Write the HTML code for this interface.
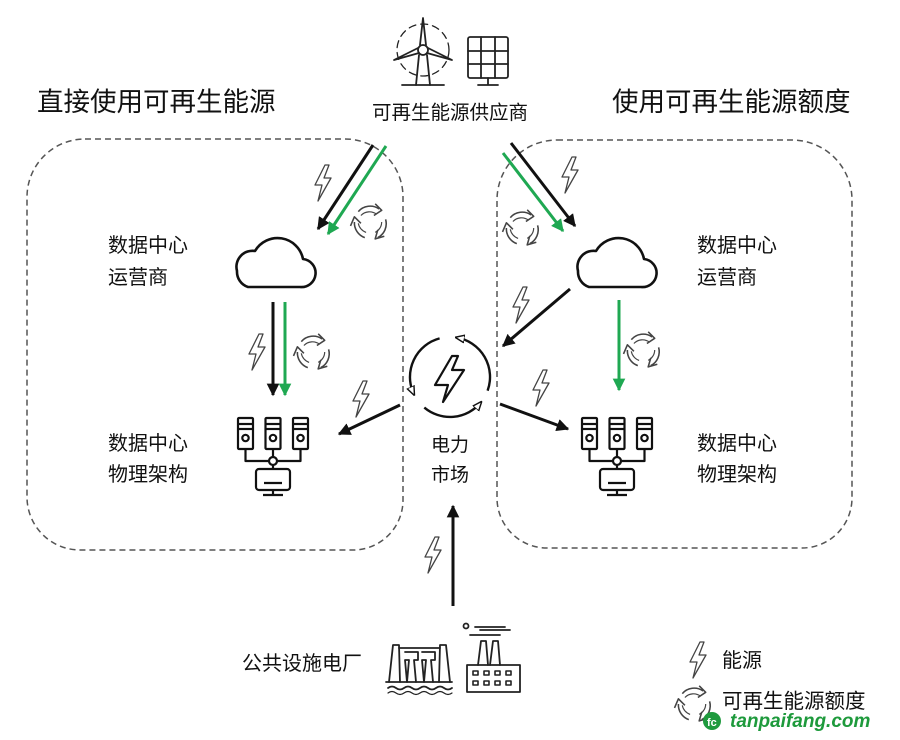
<!DOCTYPE html>
<html><head><meta charset="utf-8"><style>
html,body{margin:0;padding:0;background:#fff;}
svg{display:block;}
text{font-family:"Liberation Sans","Noto Sans CJK SC",sans-serif;fill:#111;}
</style></head><body>
<svg width="900" height="740" viewBox="0 0 900 740" xmlns="http://www.w3.org/2000/svg">
<defs>
<marker id="ab" viewBox="0 0 10 10" refX="9" refY="5" markerWidth="4.2" markerHeight="4.2" orient="auto" markerUnits="strokeWidth"><path d="M0,0 L10,5 L0,10 z" fill="#111"/></marker>
<marker id="ag" viewBox="0 0 10 10" refX="9" refY="5" markerWidth="4.2" markerHeight="4.2" orient="auto" markerUnits="strokeWidth"><path d="M0,0 L10,5 L0,10 z" fill="#1fa852"/></marker>
<marker id="am" viewBox="0 0 10 10" refX="8" refY="5" markerWidth="4" markerHeight="4" orient="auto" markerUnits="strokeWidth"><path d="M0,1 L10,5 L0,9 z" fill="#fff" stroke="#111" stroke-width="1.5"/></marker>
<g id="bolt"><path d="M12,0 L2,20 L9,20 L5,36 L18,13 L11,13 L16,0 Z" fill="#fff" stroke="#444" stroke-width="1.3" stroke-linejoin="round"/></g>
<g id="rec0" fill="none" stroke="#444" stroke-width="1.2" stroke-linejoin="round">
 <path d="M-9,-8 A12,12 0 0 1 7,-10"/><path d="M4,-14 L9,-9 L3,-5"/>
 <path d="M12,-2 A12,12 0 0 1 6,12"/><path d="M11,11 L4,13 L6,6"/>
 <path d="M-4,12 A12,12 0 0 1 -12,0"/><path d="M-15,3 L-12,-4 L-7,1"/>
 <path d="M-7,-5 A9,9 0 0 1 5,-6" stroke-width="0.9"/>
 <path d="M9,0 A9,9 0 0 1 4,8" stroke-width="0.9"/>
 <path d="M-3,8 A9,9 0 0 1 -9,1" stroke-width="0.9"/>
</g>
<g id="rec"><use href="#rec0" transform="scale(1.3)"/></g>
<g id="srv" fill="none" stroke="#111" stroke-width="2.2" stroke-linejoin="round">
 <rect x="-35" y="0" width="15" height="31" rx="1"/><line x1="-35" y1="6" x2="-20" y2="6"/><line x1="-35" y1="11" x2="-20" y2="11"/><circle cx="-27.5" cy="20" r="3.2"/>
 <rect x="-7.5" y="0" width="15" height="31" rx="1"/><line x1="-7.5" y1="6" x2="7.5" y2="6"/><line x1="-7.5" y1="11" x2="7.5" y2="11"/><circle cx="0" cy="20" r="3.2"/>
 <rect x="20" y="0" width="15" height="31" rx="1"/><line x1="20" y1="6" x2="35" y2="6"/><line x1="20" y1="11" x2="35" y2="11"/><circle cx="27.5" cy="20" r="3.2"/>
 <path d="M-27.5,31 V43 H27.5 V31"/><line x1="0" y1="31" x2="0" y2="39"/>
 <circle cx="0" cy="43" r="4" fill="#fff"/>
 <line x1="0" y1="47" x2="0" y2="51"/>
 <rect x="-17" y="51" width="34" height="21" rx="3"/><line x1="-9" y1="65" x2="9" y2="65"/>
 <line x1="0" y1="72" x2="0" y2="77"/><line x1="-10" y1="77" x2="10" y2="77"/>
</g>
<g id="cloud"><path d="M-26,26 H26 A14,14 0 0 0 29,-2 A26,26 0 0 0 -19,-10 A16,16 0 0 0 -37,10 A16,16 0 0 0 -26,26 Z" fill="#fff" stroke="#111" stroke-width="2.6" stroke-linejoin="round"/></g>
</defs>

<!-- dashed boxes -->
<path d="M85,139 H345 A58,58 0 0 1 403,197 V500 A50,50 0 0 1 353,550 H80 A53,53 0 0 1 27,497 V197 A58,58 0 0 1 85,139 Z" fill="none" stroke="#555" stroke-width="1.5" stroke-dasharray="6,4"/>
<path d="M557,140 H792 A60,60 0 0 1 852,200 V498 A50,50 0 0 1 802,548 H547 A50,50 0 0 1 497,498 V200 A60,60 0 0 1 557,140 Z" fill="none" stroke="#555" stroke-width="1.5" stroke-dasharray="6,4"/>

<!-- titles -->
<text x="37" y="111" font-size="26.5">直接使用可再生能源</text>
<text x="612" y="111" font-size="26.5">使用可再生能源额度</text>
<text x="372" y="119" font-size="19.5">可再生能源供应商</text>

<!-- wind turbine -->
<g fill="none" stroke="#222" stroke-width="1.8" stroke-linejoin="round" stroke-linecap="round">
 <circle cx="423" cy="50" r="26" stroke-dasharray="7,5" stroke-width="1.3"/>
 <path d="M419,55 L416,85 M427,55 L430,85"/>
 <line x1="402" y1="85" x2="444" y2="85"/>
 <circle cx="423" cy="50" r="5" fill="#fff"/>
 <path d="M420,45 L423,18 L426,45"/>
 <path d="M419,53 L394,60 L418,48"/>
 <path d="M427,53 L452,60 L428,48"/>
 <rect x="468" y="37" width="40" height="41" rx="2"/>
 <path d="M481,37 V78 M495,37 V78 M468,51 H508 M468,64 H508"/>
 <path d="M488,78 V85 M478,85 H498"/>
</g>

<!-- left top arrows -->
<line x1="373" y1="145" x2="318" y2="229" stroke="#111" stroke-width="3" marker-end="url(#ab)"/>
<line x1="386" y1="146" x2="328" y2="234" stroke="#1fa852" stroke-width="3" marker-end="url(#ag)"/>
<use href="#bolt" x="313" y="165"/>
<use href="#rec" x="370" y="222"/>

<!-- left cloud -->
<use href="#cloud" x="274" y="261"/>
<text x="108" y="252" font-size="20">数据中心</text>
<text x="108" y="284" font-size="20">运营商</text>

<!-- left vertical arrows -->
<line x1="273" y1="302" x2="273" y2="395" stroke="#111" stroke-width="3" marker-end="url(#ab)"/>
<line x1="285" y1="302" x2="285" y2="395" stroke="#1fa852" stroke-width="3" marker-end="url(#ag)"/>
<use href="#bolt" x="247" y="334"/>
<use href="#rec" x="313" y="352"/>

<!-- left servers -->
<use href="#srv" x="273" y="418"/>
<text x="108" y="450" font-size="20">数据中心</text>
<text x="108" y="481" font-size="20">物理架构</text>

<!-- market -->
<g fill="none" stroke="#111" stroke-width="2.4">
 <path d="M487.6,390.7 A40,40 0 0 0 456.9,337.6" marker-end="url(#am)"/>
 <path d="M439.6,338.4 A40,40 0 0 0 413.7,393.9" marker-end="url(#am)"/>
 <path d="M424.3,407.6 A40,40 0 0 0 480.6,402.7" marker-end="url(#am)"/>
 <path d="M452,356 L435,385 L448,385 L443,402 L464,370 L452,370 L458,356 Z" stroke-width="2.2" stroke-linejoin="round"/>
</g>
<text x="431" y="451" font-size="19">电力</text>
<text x="431" y="481" font-size="19">市场</text>

<!-- market arrows -->
<line x1="400" y1="405" x2="339" y2="434" stroke="#111" stroke-width="3" marker-end="url(#ab)"/>
<use href="#bolt" x="351" y="381"/>
<line x1="500" y1="404" x2="568" y2="429" stroke="#111" stroke-width="3" marker-end="url(#ab)"/>
<use href="#bolt" x="531" y="370"/>
<line x1="570" y1="289" x2="503" y2="346" stroke="#111" stroke-width="3" marker-end="url(#ab)"/>
<use href="#bolt" x="511" y="287"/>

<!-- right top arrows -->
<line x1="511" y1="143" x2="575" y2="226" stroke="#111" stroke-width="3" marker-end="url(#ab)"/>
<line x1="503" y1="153" x2="563" y2="231" stroke="#1fa852" stroke-width="3" marker-end="url(#ag)"/>
<use href="#bolt" x="560" y="157"/>
<use href="#rec" x="522" y="228"/>

<!-- right cloud -->
<use href="#cloud" x="615" y="261"/>
<text x="697" y="252" font-size="20">数据中心</text>
<text x="697" y="284" font-size="20">运营商</text>
<line x1="619" y1="300" x2="619" y2="390" stroke="#1fa852" stroke-width="3" marker-end="url(#ag)"/>
<use href="#rec" x="643" y="350"/>

<!-- right servers -->
<use href="#srv" x="617" y="418"/>
<text x="697" y="450" font-size="20">数据中心</text>
<text x="697" y="481" font-size="20">物理架构</text>

<!-- bottom arrow -->
<line x1="453" y1="606" x2="453" y2="506" stroke="#111" stroke-width="3" marker-end="url(#ab)"/>
<use href="#bolt" x="423" y="537"/>

<!-- bottom plants -->
<text x="242" y="670" font-size="20">公共设施电厂</text>
<g fill="none" stroke="#222" stroke-width="1.8" stroke-linejoin="round" stroke-linecap="round">
 <path d="M389,682 L393,645 L399,645 L400,682 M439,682 L440,645 L446,645 L450,682"/>
 <path d="M399,648 H440"/>
 <path d="M405,652 H418 V660 H414 L416,682 M407,682 L409,660 H405 Z"/>
 <path d="M422,652 H435 V660 H431 L433,682 M424,682 L426,660 H422 Z"/>
 <line x1="386" y1="682" x2="452" y2="682"/>
 <path d="M388,688 q4,-3 8,0 t8,0 t8,0 t8,0 t8,0 t8,0 t8,0 t8,0"/>
 <path d="M388,693 q4,-3 8,0 t8,0 t8,0 t8,0 t8,0 t8,0 t8,0 t8,0" stroke-width="1.2"/>
 <rect x="467" y="665" width="53" height="27"/>
 <path d="M478,665 L481,641 L486,641 L488,665 M490,665 L493,641 L498,641 L500,665"/>
 <path d="M475,627 H505 M470,635 H500 M480,630 H510"/>
 <circle cx="466" cy="626" r="2.5"/>
 <g stroke-width="1.6"><rect x="473" y="671" width="5" height="4"/><rect x="484" y="671" width="5" height="4"/><rect x="495" y="671" width="5" height="4"/><rect x="506" y="671" width="5" height="4"/>
 <rect x="473" y="681" width="5" height="4"/><rect x="484" y="681" width="5" height="4"/><rect x="495" y="681" width="5" height="4"/><rect x="506" y="681" width="5" height="4"/></g>
</g>

<!-- legend -->
<use href="#bolt" x="688" y="642"/>
<text x="722" y="667" font-size="20">能源</text>
<use href="#rec" x="694" y="704"/>
<text x="722" y="708" font-size="20.5">可再生能源额度</text>
<circle cx="712" cy="721" r="9" fill="#1f9a3e"/>
<text x="707" y="726" font-size="11" font-weight="bold" style="fill:#fff">fc</text>
<text x="730" y="727" font-size="19" font-weight="bold" font-style="italic" style="fill:#1e9a3c">tanpaifang.com</text>
</svg>
</body></html>
